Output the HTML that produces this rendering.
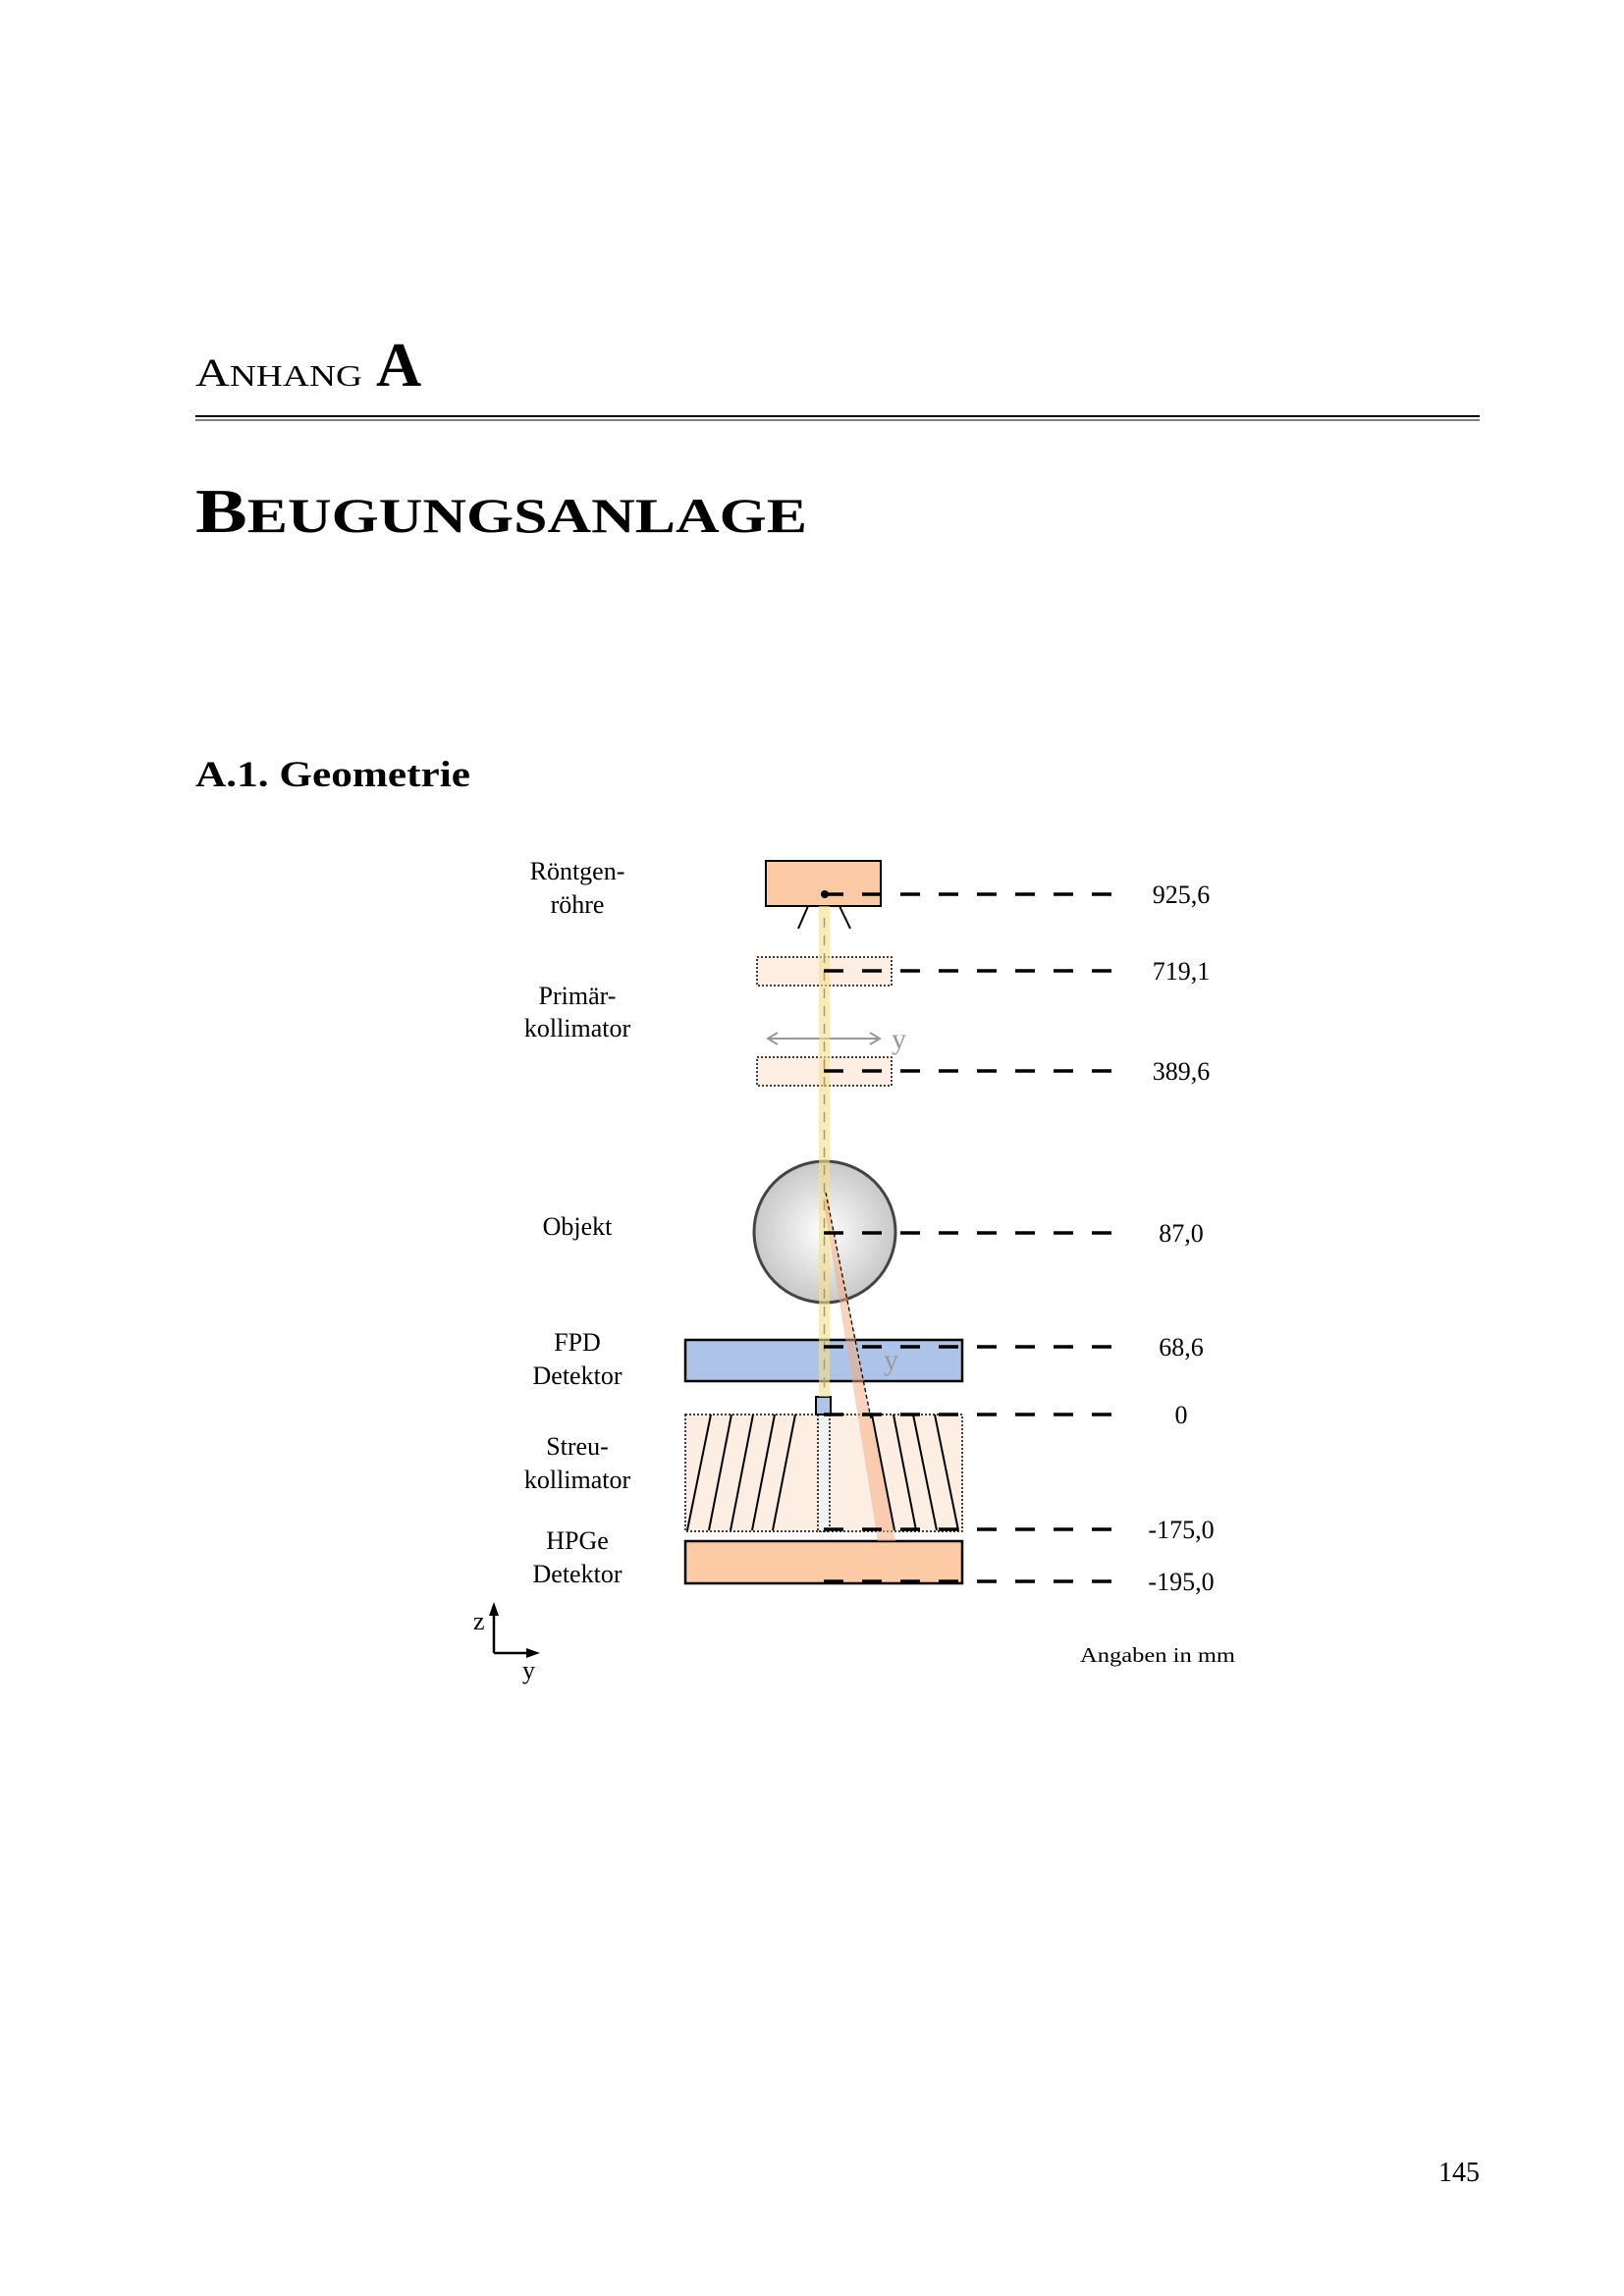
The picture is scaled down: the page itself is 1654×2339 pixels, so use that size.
<!DOCTYPE html>
<html><head><meta charset="utf-8"><style>html,body{margin:0;padding:0;background:#fff}svg{display:block}</style></head>
<body>
<svg width="1654" height="2339" viewBox="0 0 1654 2339" xmlns="http://www.w3.org/2000/svg" font-family="Liberation Serif, serif">
<defs>
<radialGradient id="g" cx="0.5" cy="0.5" r="0.5"><stop offset="0" stop-color="#ffffff"/><stop offset="1" stop-color="#c8c8c8"/></radialGradient>
</defs>
<!-- header -->
<text x="199" y="393" font-size="40" textLength="170" lengthAdjust="spacingAndGlyphs">A<tspan font-size="31">NHANG</tspan></text>
<text x="383" y="393" font-size="64" font-weight="bold">A</text>
<rect x="199" y="423" width="1308" height="2" fill="#000"/>
<rect x="199" y="427.5" width="1308" height="1" fill="#000"/>
<text x="199" y="542" font-size="64" font-weight="bold" textLength="623" lengthAdjust="spacingAndGlyphs">B<tspan font-size="50">EUGUNGSANLAGE</tspan></text>
<text x="199" y="801" font-size="37" font-weight="bold" textLength="280" lengthAdjust="spacingAndGlyphs">A.1.  Geometrie</text>

<!-- labels -->
<g font-size="26" text-anchor="middle" fill="#000">
<text x="588" y="896">Röntgen-</text><text x="588" y="930">röhre</text>
<text x="588" y="1023">Primär-</text><text x="588" y="1056">kollimator</text>
<text x="588" y="1258">Objekt</text>
<text x="588" y="1376">FPD</text><text x="588" y="1410">Detektor</text>
<text x="588" y="1482">Streu-</text><text x="588" y="1516">kollimator</text>
<text x="588" y="1578">HPGe</text><text x="588" y="1612">Detektor</text>
</g>
<g font-size="26" text-anchor="middle">
<text x="1203" y="920">925,6</text>
<text x="1203" y="998">719,1</text>
<text x="1203" y="1100">389,6</text>
<text x="1203" y="1265">87,0</text>
<text x="1203" y="1381">68,6</text>
<text x="1203" y="1450">0</text>
<text x="1203" y="1567">-175,0</text>
<text x="1203" y="1620">-195,0</text>
</g>
<text x="1100" y="1693" font-size="21" textLength="158" lengthAdjust="spacingAndGlyphs">Angaben in mm</text>

<!-- tube -->
<rect x="780" y="877" width="117" height="46" fill="#fccba6" stroke="#000" stroke-width="2"/>
<line x1="823" y1="923" x2="813" y2="946" stroke="#000" stroke-width="2"/>
<line x1="855" y1="923" x2="866" y2="946" stroke="#000" stroke-width="2"/>
<!-- collimators -->
<rect x="771" y="975" width="137" height="29" fill="#fdeee4" stroke="#000" stroke-width="1.5" stroke-dasharray="2,2"/>
<rect x="771" y="1077" width="137" height="29" fill="#fdeee4" stroke="#000" stroke-width="1.5" stroke-dasharray="2,2"/>
<!-- arrow y -->
<g stroke="#999" stroke-width="2" fill="none"><line x1="784" y1="1058" x2="894" y2="1058"/><path d="M792,1052 L782,1058 L792,1064 M886,1052 L896,1058 L886,1064"/></g>
<text x="908" y="1068" font-size="30" fill="#999">y</text>
<!-- object -->
<circle cx="840" cy="1255" r="72" fill="url(#g)" stroke="#444" stroke-width="3"/>
<!-- FPD -->
<rect x="698" y="1365" width="282" height="42" fill="#adc4e8" stroke="#000" stroke-width="2.5"/>
<text x="900" y="1395" font-size="30" fill="#999">y</text>
<!-- streukollimator -->
<rect x="698" y="1441" width="282" height="119" fill="#fdeee4" stroke="#000" stroke-width="1.5" stroke-dasharray="2,2"/>
<rect x="833" y="1441" width="12" height="119" fill="#eef0f2" stroke="#000" stroke-width="1.5" stroke-dasharray="2,2"/>
<g stroke="#000" stroke-width="2">
<line x1="724" y1="1441" x2="700" y2="1559"/><line x1="745" y1="1441" x2="722" y2="1559"/><line x1="767" y1="1441" x2="744" y2="1559"/><line x1="789" y1="1441" x2="766" y2="1559"/><line x1="810" y1="1441" x2="787" y2="1559"/>
<line x1="888" y1="1441" x2="911" y2="1559"/><line x1="910" y1="1441" x2="933" y2="1559"/><line x1="930" y1="1441" x2="954" y2="1559"/><line x1="952" y1="1441" x2="976" y2="1559"/>
</g>
<rect x="831" y="1423" width="15" height="18" fill="#adc4e8" stroke="#000" stroke-width="2"/>
<!-- HPGe -->
<rect x="698" y="1570" width="282" height="43" fill="#fccba6" stroke="#000" stroke-width="2.5"/>
<!-- beams -->
<rect x="834" y="923" width="11" height="500" fill="#f7e08a" opacity="0.6"/>
<line x1="839.5" y1="935" x2="839.5" y2="1420" stroke="#999" stroke-width="1.5" stroke-dasharray="10,8"/>
<polygon points="838,1220 843,1220 912,1570 894,1570" fill="#f6a77a" opacity="0.5"/>
<line x1="841" y1="1215" x2="887" y2="1445" stroke="#000" stroke-width="1.3" stroke-dasharray="4,3"/>
<!-- dashed levels -->
<g stroke="#000" stroke-width="3.5" stroke-dasharray="20,19">
<line x1="839" y1="911" x2="1140" y2="911"/>
<line x1="839" y1="989" x2="1140" y2="989"/>
<line x1="839" y1="1091" x2="1140" y2="1091"/>
<line x1="839" y1="1256" x2="1140" y2="1256"/>
<line x1="839" y1="1372" x2="1140" y2="1372"/>
<line x1="839" y1="1441" x2="1140" y2="1441"/>
<line x1="839" y1="1558" x2="1140" y2="1558"/>
<line x1="839" y1="1611" x2="1140" y2="1611"/>
</g>
<circle cx="840" cy="911" r="4" fill="#000"/>
<!-- axes -->
<g stroke="#000" stroke-width="2.5" fill="none"><path d="M503,1684 L503,1642 M503,1684 L545,1684"/></g>
<polygon points="503,1632 498,1646 508,1646" fill="#000"/>
<polygon points="550,1684 536,1679 536,1689" fill="#000"/>
<text x="482" y="1660" font-size="26">z</text>
<text x="532" y="1710" font-size="26">y</text>
<!-- page number -->
<text x="1507" y="2222" font-size="28" text-anchor="end">145</text>
</svg>
</body></html>
